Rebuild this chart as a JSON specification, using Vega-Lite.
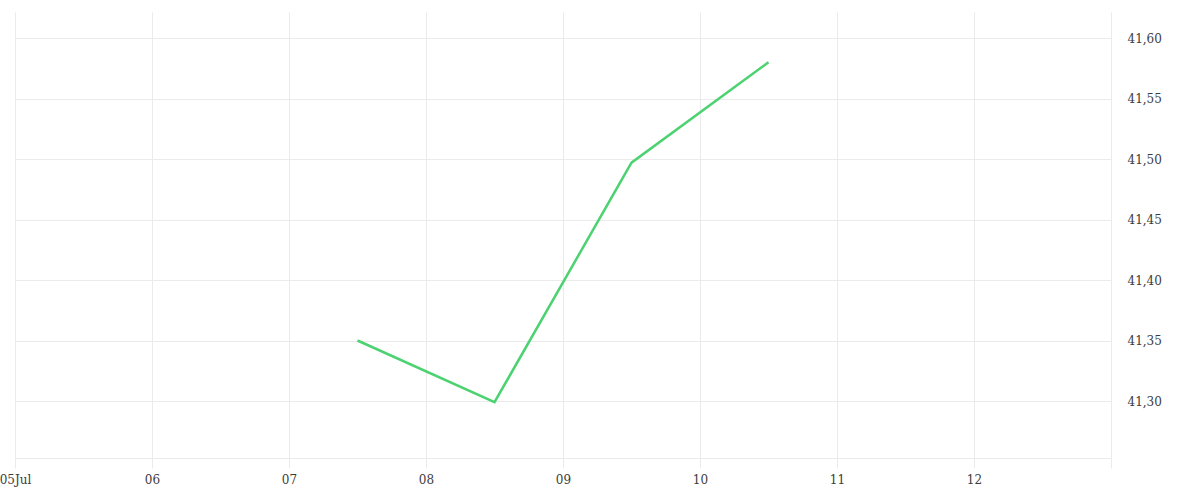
{
  "$schema": "https://vega.github.io/schema/vega-lite/v6.json",
  "autosize": "none",
  "width": 1096,
  "height": 446,
  "padding": {"left": 15, "top": 12, "right": 89, "bottom": 42},
  "background": "#ffffff",
  "config": {
    "view": {"stroke": null},
    "axis": {"labelFont": "DejaVu Serif", "labelFontSize": 12, "labelColor": "#3c3c3c", "gridColor": "#ebebeb", "gridWidth": 1}
  },
  "data": {
    "values": [
      {"date": "2023-07-07T12:00:00", "price": 41.35},
      {"date": "2023-07-08T12:00:00", "price": 41.299},
      {"date": "2023-07-09T12:00:00", "price": 41.497},
      {"date": "2023-07-10T12:00:00", "price": 41.58}
    ]
  },
  "mark": {"type": "line", "color": "#4cd270", "strokeWidth": 2.5},
  "encoding": {
    "x": {
      "field": "date",
      "type": "temporal",
      "scale": {"domain": [{"year": 2023, "month": 7, "date": 5}, {"year": 2023, "month": 7, "date": 13}]},
      "axis": {
        "title": null,
        "tickCount": {"interval": "day", "step": 1},
        "labelExpr": "date(datum.value) == 13 ? '' : (date(datum.value) == 5 ? timeFormat(datum.value, '%dJul') : timeFormat(datum.value, '%d'))",
        "labelFlush": false,
        "labelOverlap": false,
        "tickSize": 10,
        "tickColor": "#ebebeb",
        "domainColor": "#ebebeb",
        "labelPadding": 6
      }
    },
    "y": {
      "field": "price",
      "type": "quantitative",
      "scale": {"domain": [41.2529, 41.6215], "nice": false, "zero": false},
      "axis": {
        "orient": "right",
        "title": null,
        "values": [41.3, 41.35, 41.4, 41.45, 41.5, 41.55, 41.6],
        "labelExpr": "replace(format(datum.value, '.2f'), '.', ',')",
        "ticks": false,
        "domain": false,
        "labelPadding": 16
      }
    }
  }
}
